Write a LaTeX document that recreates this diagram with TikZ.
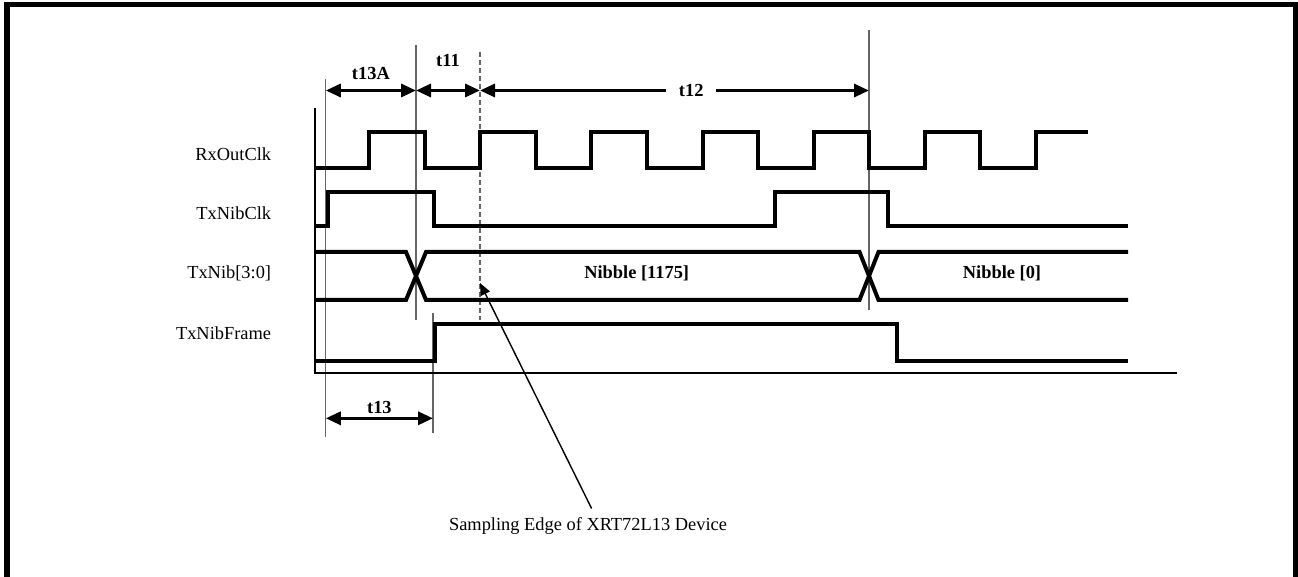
\documentclass[tikz,border=0pt]{standalone}
\usepackage{fontspec}
\setmainfont{Liberation Serif}
\usetikzlibrary{arrows.meta,positioning}

\tikzset{
  sig/.style={line width=2pt},
  guide/.style={line width=0.6pt,black!60},
  dim/.style={line width=1.6pt,{Triangle[length=7.5pt,width=6.5pt]}-{Triangle[length=7.5pt,width=6.5pt]}},
  tname/.style={font=\fontsize{9.2}{11}\selectfont\bfseries},
  sname/.style={anchor=east,inner sep=0pt,font=\fontsize{9.2}{11}\selectfont},
}

\begin{document}
\begin{tikzpicture}[x=0.5pt,y=-0.5pt]

      \useasboundingbox (0,0) rectangle (1298,577);
      \draw[line width=2.7pt] (7,577) -- (7,4.5) -- (1295.8,4.5) -- (1295.8,577);

      \path (271.5,154) node[sname] (rx)    {RxOutClk};
      \path (271.5,213) node[sname] (nclk)  {TxNibClk};
      \path (271.5,273) node[sname] (nib)   {TxNib[3:0]};
      \path (271.5,333) node[sname] (frame) {TxNibFrame};

      % guide lines
      \draw[guide] (325.8,79) -- (325.8,437);
      \draw[guide] (416,45)   -- (416,320);
      \draw[guide,dash pattern=on 2.5pt off 1.5pt] (480,52) -- (480,320);
      \draw[guide] (869,30)   -- (869,310);
      \draw[guide] (433,313)  -- (433,433);
      \draw[line width=0.7pt] (315,108) -- (315,373) -- (1177,373);

      % waveforms
      \draw[sig] (315,168) -| (369,132) -| (424.6,168) -| (480.2,132) -| (535.7,168)
                 -| (591.3,132) -| (646.9,168) -| (702.5,132) -| (758,168) -| (813.6,132)
                 -| (869.2,168) -| (924.8,132) -| (980.3,168) -| (1035.9,132) -- (1088,132);
      \draw[sig] (315,226) -| (328,192) -| (434,226) -| (775,192) -| (888,226) -- (1128,226);
      \draw[sig] (315,252) -- (406,252) -- (426,300) -- (859.5,300) -- (878.5,252) -- (1128,252);
      \draw[sig] (315,300) -- (406,300) -- (426,252) -- (859.5,252) -- (878.5,300) -- (1128,300);
      \draw[sig] (315,361) -| (434.5,324) -| (897,361) -- (1128,361);

      \path (636.7,273) node[tname] (n1175) {Nibble [1175]};
      \path (1002,273)  node[tname] (n0)    {Nibble [0]};

      % timing marks
      \coordinate (m13a) at (325.8,90.5);
      \coordinate (m11a) at (416,90.5);
      \coordinate (m12a) at (480,90.5);
      \coordinate (m12b) at (869,90.5);
      \coordinate (m13l) at (325.8,418.3);
      \coordinate (m13r) at (433,418.3);

      \draw[dim] (m13a) -- (m11a) node[midway,above=1.3pt,tname] {t13A};
      \draw[dim] (m11a) -- (m12a) node[midway,above=8pt,tname] {t11};
      \draw[dim] (m12a) -- (m12b) node[pos=0.543,fill=white,inner xsep=6.5pt,tname] {t12};
      \draw[dim] (m13l) -- (m13r) node[midway,above=-2pt,tname] {t13};

      % sampling edge
      \path (588,526) node[font=\fontsize{9.2}{11}\selectfont] (samp) {Sampling Edge of XRT72L13 Device};
      \coordinate (edge) at (480,283);
      \draw[line width=0.7pt,-{Triangle[length=6pt,width=5pt]}] ([xshift=1.8pt,yshift=1pt]samp.north) -- (edge);

\end{tikzpicture}
\end{document}
